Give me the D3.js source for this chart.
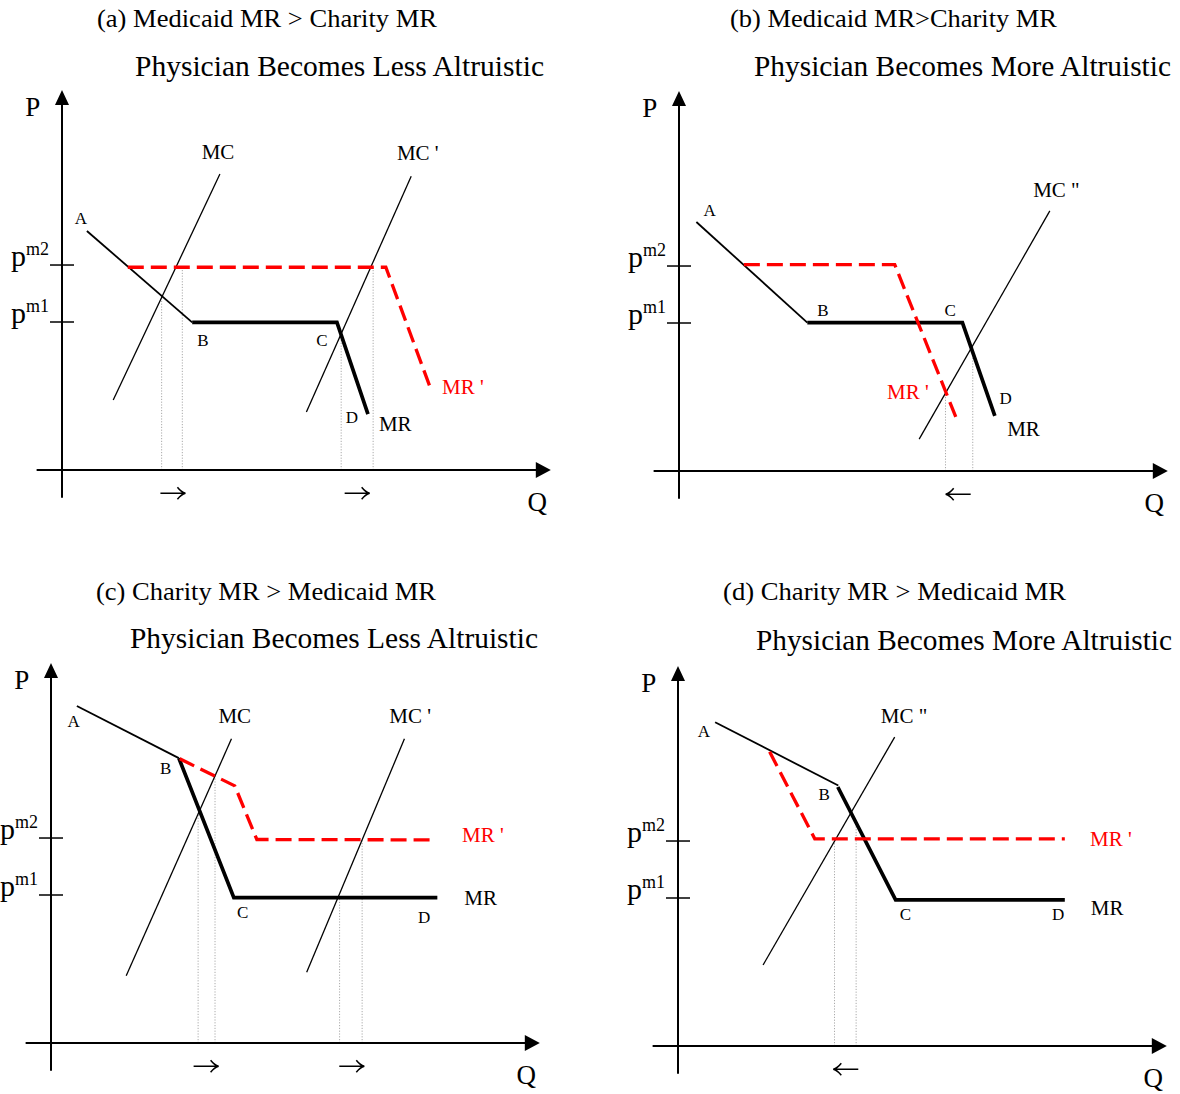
<!DOCTYPE html>
<html>
<head>
<meta charset="utf-8">
<script src="https://cdn.jsdelivr.net/npm/d3@7"></script>
<style>body{margin:0;background:#fff}</style>
</head>
<body>
<div id="chart"></div>
<script>
const width = 1180, height = 1094
const svg = d3.select("#chart")
    .append("svg")
    .attr("xmlns", "http://www.w3.org/2000/svg")
    .attr("width", width)
    .attr("height", height)
    .style("font-family", "'Liberation Serif', 'Times New Roman', serif")

svg.append("rect").attr("width", width).attr("height", height).attr("fill", "#fff")

// data, in chart units: Q along the horizontal axis, P along the vertical one (0..100)
const priceLevels = [["m2", 55.4], ["m1", 40]]

// (a)
const aTitle = ["(a) Medicaid MR > Charity MR", "Physician Becomes Less Altruistic"]
const aAB = [[5.3, 64.6], [27.7, 39.9]]
const aMR = [[27.7, 39.9], [58.5, 39.9], [65.1, 15.1]]
const aMRprime = [[14.0, 54.8], [68.9, 54.8], [78.6, 21.4]]
const aMC = [[[10.9, 18.9], [33.6, 80]], [[52.0, 15.7], [74.3, 79.4]]]
const aDrops = [[21.2, 47], [25.6, 54.8], [59.4, 36.8], [66.2, 54.8]]
const aLabels = [["A", 4.0, 68.1, "pt"], ["B", 30, 34.9, "pt"], ["C", 55.3, 34.9, "pt"], ["D", 61.7, 14.3, "pt"],
    ["MC", 33.2, 85.9, "curve"], ["MC '", 75.7, 85.7, "curve"], ["MR", 70.9, 12.4, "curve"], ["MR '", 85.3, 22.4, "red"]]
const aShifts = [[23.6, 1], [62.8, 1]]   // 1 = right arrow, -1 = left arrow

// (b)
const bTitle = ["(b) Medicaid MR>Charity MR", "Physician Becomes More Altruistic"]
const bAB = [[3.7, 67.3], [27.3, 40.1]]
const bMR = [[27.3, 40.1], [60.3, 40.1], [67.2, 14.9]]
const bMRprime = [[13.8, 55.8], [45.9, 55.8], [59.4, 13]]
const bMC = [[[51.1, 8.6], [78.9, 70.3]]]
const bDrops = [[56.7, 20.4], [62.5, 33.8]]
const bLabels = [["A", 6.5, 70.3, "pt"], ["B", 30.6, 43.5, "pt"], ["C", 57.7, 43.5, "pt"], ["D", 69.5, 19.5, "pt"],
    ["MR", 73.3, 11.4, "curve"], ["MC \"", 80.3, 75.9, "curve"], ["MR '", 48.7, 21.4, "red"]]
const bShifts = [[59.4, -1]]

// (c)
const cTitle = ["(c) Charity MR > Medicaid MR", "Physician Becomes Less Altruistic"]
const cAB = [[5.5, 91.1], [27.2, 77.0]]
const cMR = [[27.2, 77.0], [38.9, 39.3], [82.2, 39.3]]
const cMRprime = [[27.4, 76.8], [39.1, 69.5], [43.8, 55.0], [82.0, 54.9]]
const cMC = [[[16.0, 18.2], [38.4, 82.2]], [[54.4, 19.1], [75.2, 82.2]]]
const cDrops = [[31.3, 62.2], [34.9, 72.2], [61.4, 39.3], [66.2, 54.9]]
const cLabels = [["A", 4.8, 87.0, "pt"], ["B", 24.4, 74.3, "pt"], ["C", 40.8, 35.3, "pt"], ["D", 79.4, 33.9, "pt"],
    ["MR", 91.4, 39.3, "curve"], ["MC", 39.1, 88.4, "curve"], ["MC '", 76.4, 88.4, "curve"], ["MR '", 91.9, 56.2, "red"]]
const cShifts = [[33, 1], [64, 1]]

// (d)
const dTitle = ["(d) Charity MR > Medicaid MR", "Physician Becomes More Altruistic"]
const dAB = [[7.9, 87.5], [34.1, 70.4]]
const dMR = [[34.0, 70.0], [46.3, 39.5], [82.3, 39.5]]
const dMRprime = [[19.5, 79.5], [29.1, 56.0], [82.3, 56.0]]
const dMC = [[[18.1, 21.9], [46.1, 83.5]]]
const dDrops = [[33.3, 56.0], [37.9, 61.2]]
const dLabels = [["A", 5.5, 85.0, "pt"], ["B", 31.1, 68.0, "pt"], ["C", 48.4, 35.5, "pt"], ["D", 80.9, 35.5, "pt"],
    ["MR", 91.3, 37.4, "curve"], ["MC \"", 48.1, 89.2, "curve"], ["MR '", 92.1, 56.0, "red"]]
const dShifts = [[35.7, -1]]

// layout
const origins = [[62, 470], [679, 471], [51, 1043], [678, 1046]]
const titlePos = [
    [[97, 437, 18], [135, 544, 66]],
    [[730, 1057, 18], [754, 1171, 66]],
    [[96, 436, 591], [130, 538, 638]],
    [[723, 1066, 591], [756, 1172, 640]]
]
const qExtent = [-5.4, 104], pExtent = [-7.5, 102.7]
const red = "#f00"
const labelStyle = {
    pt: {size: 17, fill: "#000"},
    curve: {size: 21, fill: "#000"},
    red: {size: 21, fill: red}
}

const panels = [
    {title: aTitle, ab: aAB, mr: aMR, mrp: aMRprime, mc: aMC, drops: aDrops, labels: aLabels, shifts: aShifts},
    {title: bTitle, ab: bAB, mr: bMR, mrp: bMRprime, mc: bMC, drops: bDrops, labels: bLabels, shifts: bShifts},
    {title: cTitle, ab: cAB, mr: cMR, mrp: cMRprime, mc: cMC, drops: cDrops, labels: cLabels, shifts: cShifts},
    {title: dTitle, ab: dAB, mr: dMR, mrp: dMRprime, mc: dMC, drops: dDrops, labels: dLabels, shifts: dShifts}
]

panels.forEach((d, i) => drawPanel(d, i))

function drawPanel(d, i) {
    const [ox, oy] = origins[i]
    const x = d3.scaleLinear().domain([0, 100]).range([ox, ox + 470])
    const y = d3.scaleLinear().domain([0, 100]).range([oy, oy - 370])
    const line = d3.line().x(p => x(p[0])).y(p => y(p[1]))
    const g = svg.append("g")

    // titles
    d.title.forEach((t, k) => {
        const [x0, x1, yc] = titlePos[i][k]
        g.append("text")
            .attr("x", x0).attr("y", yc)
            .attr("dominant-baseline", "central")
            .attr("font-size", k == 0 ? 26 : 29)
            .attr("textLength", x1 - x0)
            .attr("lengthAdjust", "spacingAndGlyphs")
            .text(t)
    })

    // dotted drop lines
    g.selectAll().data(d.drops).enter().append("path")
        .attr("d", p => line([[p[0], 0], p]))
        .attr("stroke", "#aaa")
        .attr("stroke-width", 1)
        .attr("stroke-dasharray", "1.2,1.6")
        .attr("fill", "none")

    // axes
    g.append("path").attr("d", line([[0, pExtent[0]], [0, pExtent[1] - 3]]))
        .attr("stroke", "#000").attr("stroke-width", 2)
    g.append("path").attr("d", line([[qExtent[0], 0], [qExtent[1] - 2, 0]]))
        .attr("stroke", "#000").attr("stroke-width", 2)
    const ty = y(pExtent[1]), tx = x(qExtent[1])
    g.append("path").attr("d", `M${ox},${ty}L${ox - 7},${ty + 15}L${ox + 7},${ty + 15}Z`).attr("fill", "#000")
    g.append("path").attr("d", `M${tx},${oy}L${tx - 15},${oy - 8}L${tx - 15},${oy + 8}Z`).attr("fill", "#000")
    g.append("text").attr("x", x(-6.2)).attr("y", y(98)).attr("text-anchor", "middle")
        .attr("dominant-baseline", "central").attr("font-size", 27).text("P")
    g.append("text").attr("x", x(101.1)).attr("y", y(-8.6)).attr("text-anchor", "middle")
        .attr("dominant-baseline", "central").attr("font-size", 27).text("Q")

    // price ticks
    priceLevels.forEach(([name, p]) => {
        g.append("path").attr("d", `M${ox - 12},${y(p)}H${ox + 12}`)
            .attr("stroke", "#000").attr("stroke-width", 1.5)
        const t = g.append("text").attr("x", ox - 13).attr("y", y(p) + 1).attr("text-anchor", "end")
        t.append("tspan").attr("font-size", 30).text("p")
        t.append("tspan").attr("font-size", 18).attr("dy", -11).text(name)
    })

    // MC curves
    g.selectAll().data(d.mc).enter().append("path")
        .attr("d", line).attr("stroke", "#000").attr("stroke-width", 1.3).attr("fill", "none")
    // A-B segment
    g.append("path").attr("d", line(d.ab)).attr("stroke", "#000").attr("stroke-width", 1.8).attr("fill", "none")
    // MR (thick)
    g.append("path").attr("d", line(d.mr)).attr("stroke", "#000").attr("stroke-width", 3.7)
        .attr("fill", "none").attr("stroke-linejoin", "miter")
    // MR' (red dashed)
    g.append("path").attr("d", line(d.mrp)).attr("stroke", red).attr("stroke-width", 3.3)
        .attr("stroke-dasharray", "16,7").attr("fill", "none")

    // labels
    g.selectAll().data(d.labels).enter().append("text")
        .attr("x", l => x(l[1])).attr("y", l => y(l[2]))
        .attr("text-anchor", "middle")
        .attr("dominant-baseline", "central")
        .attr("font-size", l => labelStyle[l[3]].size)
        .attr("fill", l => labelStyle[l[3]].fill)
        .text(l => l[0])

    // shift arrows under the Q axis
    const ay = y(-6.3)
    g.selectAll().data(d.shifts).enter().append("path")
        .attr("d", s => {
            const cx = x(s[0]), dir = s[1]
            const tip = cx + dir * 12.5, tail = cx - dir * 12.5
            return `M${tail},${ay}H${tip}M${tip - dir * 8},${ay - 6}Q${tip - dir * 4},${ay - 1} ${tip},${ay}Q${tip - dir * 4},${ay + 1} ${tip - dir * 8},${ay + 6}`
        })
        .attr("stroke", "#000")
        .attr("stroke-width", 1.5)
        .attr("fill", "none")
}
</script>
</body>
</html>
